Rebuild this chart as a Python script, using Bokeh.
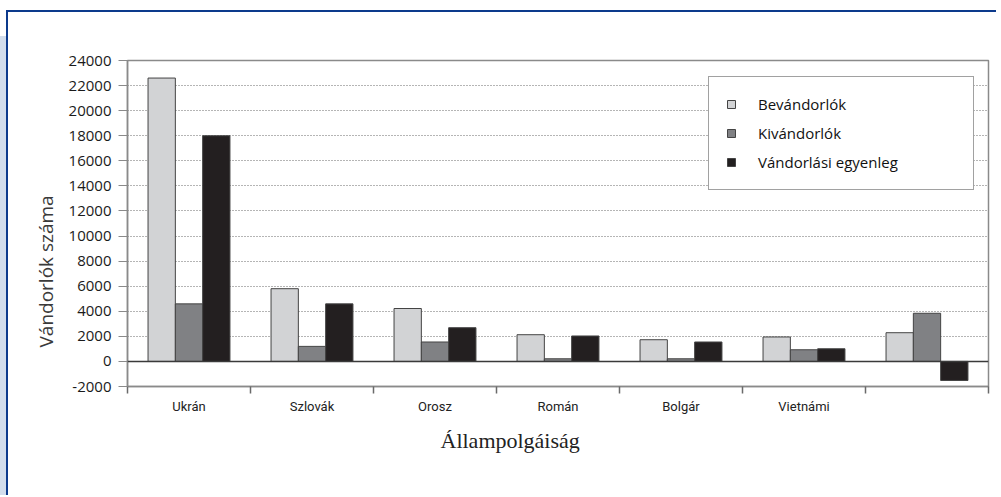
import numpy as np
from bokeh.plotting import figure
from bokeh.models import Range1d, FixedTicker, Span, Title
from bokeh.embed import file_html
from bokeh.resources import INLINE

# ---------------- data ----------------
categories = ["Ukrán", "Szlovák", "Orosz", "Román", "Bolgár", "Vietnámi", ""]
bevandorlok = [22600, 5800, 4220, 2130, 1730, 1950, 2290]
kivandorlok = [4590, 1200, 1550, 210, 210, 930, 3840]
egyenleg = [18000, 4590, 2690, 2030, 1550, 1010, -1520]
series_names = ["Bevándorlók", "Kivándorlók", "Vándorlási egyenleg"]
y_ticks = [-2000, 0, 2000, 4000, 6000, 8000, 10000, 12000, 14000, 16000,
           18000, 20000, 22000, 24000]
y_tick_labels = ["-2000", "0", "2000", "4000", "6000", "8000", "10000", "12000",
                 "14000", "16000", "18000", "20000", "22000", "24000"]
x_title = "Állampolgáiság"
y_title = "Vándorlók száma"

# ---------------- styles ----------------
colors = ["#d2d3d5", "#808184", "#231f20"]
BLUE = "#0c3a8c"
STRIP = "#d2ddec"
AXIS_GRAY = "#8a8a8a"

n = len(categories)
idx = np.arange(n)
bar_w = 0.222
offsets = [-bar_w, 0.0, bar_w]

p = figure(width=990, height=485, output_backend="svg", toolbar_location=None,
           x_range=Range1d(0, n), y_range=Range1d(y_ticks[0], y_ticks[-1]),
           min_border_left=119, min_border_right=10, min_border_top=48,
           min_border_bottom=111)
p.margin = (10, 0, 0, 6)
p.styles = {"border-top": f"2px solid {BLUE}",
            "border-left": f"2px solid {BLUE}",
            "box-shadow": f"-19px 13px 0 -13px {STRIP}"}
p.background_fill_color = "white"
p.border_fill_color = "white"
p.outline_line_color = AXIS_GRAY
p.outline_line_width = 1.5

for vals, col, name, off in zip([bevandorlok, kivandorlok, egyenleg], colors,
                                series_names, offsets):
    p.vbar(x=idx + 0.5 + off, top=vals, bottom=0, width=bar_w,
           fill_color=col, line_color="#444444", line_width=1,
           legend_label=name)

# zero line
p.add_layout(Span(location=0, dimension="width", line_color="#3a3a3a",
                  line_width=1.5))

# grid
p.xgrid.visible = False
p.ygrid.ticker = FixedTicker(ticks=[t for t in y_ticks if 0 < t < y_ticks[-1]])
p.ygrid.grid_line_color = "#6a6a6a"
p.ygrid.grid_line_dash = "1 2"
p.ygrid.grid_line_width = 1

# y axis
ya = p.yaxis[0]
ya.ticker = FixedTicker(ticks=y_ticks)
ya.major_label_overrides = {t: l for t, l in zip(y_ticks, y_tick_labels)}
ya.major_tick_out = 9
ya.major_tick_in = 0
ya.minor_tick_out = 0
ya.minor_tick_in = 0
ya.major_tick_line_color = AXIS_GRAY
ya.axis_line_color = AXIS_GRAY
ya.axis_line_width = 1.5
ya.major_label_text_font = "Open Sans"
ya.major_label_text_font_size = "15px"
ya.major_label_text_color = "#1a1a1a"
ya.major_label_standoff = 7

# x axis: labels at centres, separator ticks at boundaries
xa = p.xaxis[0]
centres = [i + 0.5 for i in range(n)]
xa.ticker = FixedTicker(ticks=centres, minor_ticks=list(range(n + 1)))
xa.major_label_overrides = {c: lab for c, lab in zip(centres, categories)}
xa.major_tick_out = 0
xa.major_tick_in = 0
xa.minor_tick_out = 7
xa.minor_tick_in = 0
xa.minor_tick_line_color = "#6a6a6a"
xa.minor_tick_line_width = 1.5
xa.axis_line_color = AXIS_GRAY
xa.axis_line_width = 1.5
xa.major_label_text_font = "Roboto"
xa.major_label_text_font_size = "13px"
xa.major_label_text_color = "#222222"
xa.major_label_standoff = 5

# axis titles
p.add_layout(Title(text=y_title, align="left", offset=39,
                   text_font="Open Sans", text_font_size="19px",
                   text_font_style="normal", text_color="#3a3a3a",
                   standoff=14), "left")
p.add_layout(Title(text=x_title, align="left", offset=313,
                   text_font="Liberation Serif", text_font_size="22px",
                   text_font_style="normal", text_color="#222222",
                   standoff=19), "below")

# legend
lg = p.legend[0]
lg.location = (581, 196)
lg.border_line_color = "#444444"
lg.border_line_width = 1
lg.background_fill_color = "white"
lg.background_fill_alpha = 1
lg.padding = 17
lg.spacing = 9
lg.glyph_width = 10
lg.glyph_height = 10
lg.label_height = 12
lg.label_standoff = 22
lg.label_width = 198
lg.label_text_font = "Open Sans"
lg.label_text_font_size = "15px"
lg.label_text_color = "#111111"
lg.margin = 0

open("out.html", "w").write(file_html(p, INLINE))
